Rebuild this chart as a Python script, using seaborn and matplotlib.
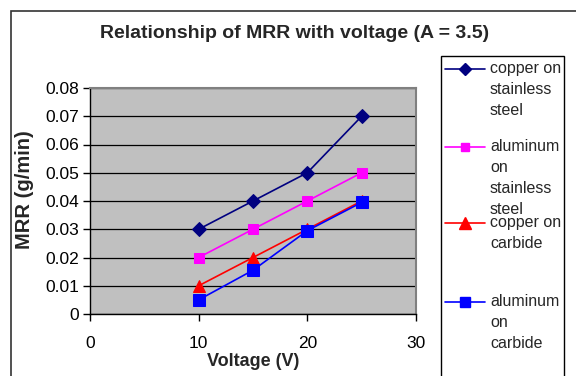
import matplotlib
matplotlib.use("Agg")
import matplotlib.pyplot as plt
import seaborn as sns
import pandas as pd
from matplotlib.patches import Rectangle
from matplotlib.lines import Line2D

sns.set_theme(style="white")
plt.rcParams['font.family'] = ['Liberation Sans', 'DejaVu Sans']

voltage = [10, 15, 20, 25]
copper_ss = [0.03, 0.04, 0.05, 0.07]
aluminum_ss = [0.02, 0.03, 0.04, 0.05]
copper_carbide = [0.01, 0.02, 0.03, 0.04]
aluminum_carbide = [0.005, 0.0155, 0.0295, 0.0395]
labels = ["copper on\nstainless\nsteel", "aluminum\non\nstainless\nsteel",
          "copper on\ncarbide", "aluminum\non\ncarbide"]

W, H = 576, 376
styles = [
    ("#000080", "D", 7, 6.5),
    ("#FF00FF", "s", 6.5, 5.5),
    ("#FF0000", "^", 8.5, 8),
    ("#0000FF", "s", 8.5, 7.5),
]
values = [copper_ss, aluminum_ss, copper_carbide, aluminum_carbide]

fig = plt.figure(figsize=(W/100, H/100), dpi=100)
ax = fig.add_axes([90/W, 1-314/H, (416-90)/W, (314-88)/H])
ax.set_facecolor("#C0C0C0")

for label, vals, (color, marker, ms, _) in zip(labels, values, styles):
    df = pd.DataFrame({"Voltage": voltage, "MRR": vals})
    sns.lineplot(data=df, x="Voltage", y="MRR", ax=ax, color=color,
                 marker=marker, markersize=ms, markeredgecolor=color,
                 linewidth=1.2, legend=False)

ax.set_xlim(0, 30)
ax.set_ylim(0, 0.08)
ax.set_xticks([0, 10, 20, 30])
ax.set_yticks([0, 0.01, 0.02, 0.03, 0.04, 0.05, 0.06, 0.07, 0.08])
ax.set_yticklabels(["0", "0.01", "0.02", "0.03", "0.04", "0.05", "0.06", "0.07", "0.08"])
ax.yaxis.grid(True, color="black", linewidth=0.9)
ax.set_axisbelow(True)
ax.tick_params(axis="both", which="major", direction="out", length=5, width=1,
               color="black", labelsize=12.5, labelcolor="black", bottom=True, left=True)
ax.tick_params(axis="x", pad=11)
ax.tick_params(axis="y", pad=3)
for s in ["left", "bottom"]:
    ax.spines[s].set_color("black")
    ax.spines[s].set_linewidth(1)
for s in ["top", "right"]:
    ax.spines[s].set_color("#808080")
    ax.spines[s].set_linewidth(1.5)

ax.set_xlabel("Voltage (V)", fontsize=13, fontweight="bold", labelpad=1)
ax.set_ylabel("")
fig.text(25/W, 1-190/H, "MRR (g/min)", rotation=90, ha="center", va="center",
         fontsize=14.5, fontweight="bold")

fig.text(295/W, 1-33/H, "Relationship of MRR with voltage (A = 3.5)",
         ha="center", va="center", fontsize=14, fontweight="bold")

# legend (Excel style: box runs off the bottom, handle level with first text line)
fig.patches.append(Rectangle((441/W, -0.05), (564-441)/W, 1-56/H + 0.05,
                             transform=fig.transFigure, fill=True, facecolor="white",
                             edgecolor="black", linewidth=1, zorder=1))
entry_y = [69, 147, 223, 302]
for label, yc, (color, marker, _, lms) in zip(labels, entry_y, styles):
    yf = 1 - yc/H
    fig.add_artist(Line2D([445/W, 485/W], [yf, yf], transform=fig.transFigure,
                          color=color, linewidth=1.2, zorder=2))
    fig.add_artist(Line2D([465/W], [yf], transform=fig.transFigure, color=color,
                          marker=marker, markersize=lms, markeredgecolor=color,
                          linestyle="none", zorder=3))
    fig.text(490/W, 1-(yc-8)/H, label, ha="left", va="top", fontsize=11.5,
             linespacing=1.5, zorder=4)

fig.patches.append(Rectangle((11/W, -0.1), 1.0, 1.1 - 11/H,
                             transform=fig.transFigure, fill=False,
                             edgecolor="#333333", linewidth=1.2))

fig.savefig("out.png", dpi=100)
